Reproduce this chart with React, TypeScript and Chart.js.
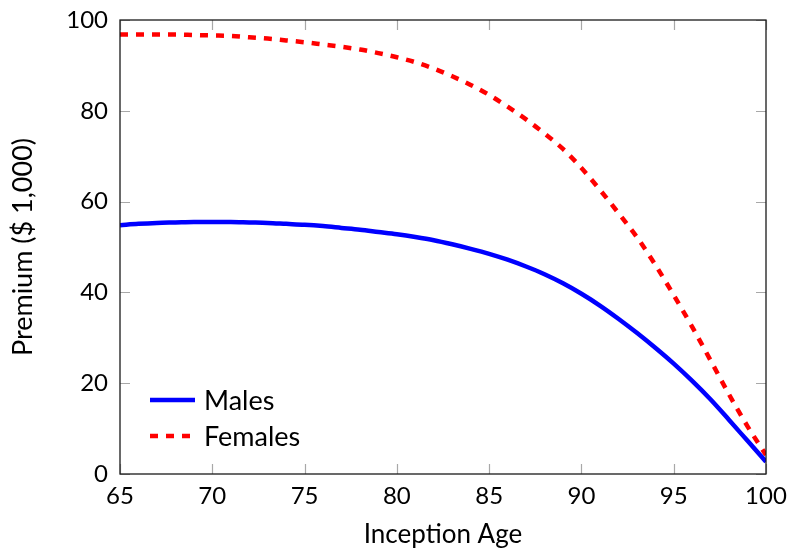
import React, { useEffect, useRef } from "react";
import { Chart, registerables } from "chart.js";

Chart.register(...registerables);

const ages = [65, 66, 67, 68, 69, 70, 71, 72, 73, 74, 75, 76, 77, 78, 79, 80, 81, 82, 83, 84, 85, 86, 87, 88, 89, 90, 91, 92, 93, 94, 95, 96, 97, 98, 99, 100];
const malesPremium = [54.8, 55.1, 55.3, 55.4, 55.5, 55.5, 55.5, 55.4, 55.3, 55.1, 54.9, 54.6, 54.2, 53.8, 53.3, 52.8, 52.2, 51.5, 50.6, 49.6, 48.5, 47.2, 45.7, 44.0, 42.0, 39.7, 37.1, 34.2, 31.1, 27.8, 24.3, 20.5, 16.4, 11.9, 7.3, 2.7];
const femalesPremium = [96.8, 96.8, 96.8, 96.8, 96.7, 96.6, 96.5, 96.2, 95.9, 95.5, 95.1, 94.6, 94.1, 93.5, 92.7, 91.8, 90.7, 89.3, 87.6, 85.7, 83.5, 80.9, 78.1, 75.0, 71.6, 67.4, 62.6, 57.5, 52.2, 46.1, 39.4, 32.4, 25.0, 17.5, 10.5, 4.2];
const seriesLabels = ["Males", "Females"];
const xTitle = "Inception Age";
const yTitle = "Premium ($ 1,000)";

const FONT = "Lato, 'Open Sans', sans-serif";

const frameTicks = {
  id: "frameTicks",
  beforeDatasetsDraw(chart: any) {
    const { ctx, chartArea: a, scales } = chart;
    ctx.save();
    ctx.strokeStyle = "#a8a8a8";
    ctx.lineWidth = 1.2;
    const L = 10;
    scales.x.ticks.forEach((t: any) => {
      const px = Math.round(scales.x.getPixelForValue(t.value)) + 0.5;
      ctx.beginPath();
      ctx.moveTo(px, a.bottom);
      ctx.lineTo(px, a.bottom - L);
      ctx.moveTo(px, a.top);
      ctx.lineTo(px, a.top + L);
      ctx.stroke();
    });
    scales.y.ticks.forEach((t: any) => {
      const py = Math.round(scales.y.getPixelForValue(t.value)) + 0.5;
      ctx.beginPath();
      ctx.moveTo(a.left, py);
      ctx.lineTo(a.left + L, py);
      ctx.moveTo(a.right, py);
      ctx.lineTo(a.right - L, py);
      ctx.stroke();
    });
    ctx.restore();
  },
  afterDatasetsDraw(chart: any) {
    const { ctx, chartArea: a } = chart;
    ctx.save();
    ctx.strokeStyle = "#1a1a1a";
    ctx.lineWidth = 1.3;
    ctx.strokeRect(a.left, a.top, a.right - a.left, a.bottom - a.top);
    const rows = [a.bottom - 74, a.bottom - 38];
    chart.data.datasets.forEach((ds: any, i: number) => {
      const y = rows[i];
      ctx.beginPath();
      ctx.strokeStyle = ds.borderColor;
      ctx.lineWidth = ds.borderWidth;
      ctx.setLineDash(ds.borderDash || []);
      ctx.moveTo(a.left + 30, y);
      ctx.lineTo(a.left + (ds.borderDash ? 72 : 75), y);
      ctx.stroke();
      ctx.setLineDash([]);
      ctx.fillStyle = "#000";
      ctx.font = `27px ${FONT}`;
      ctx.textBaseline = "alphabetic";
      ctx.textAlign = "left";
      ctx.fillText(ds.label, a.left + 84, y + 9.5);
    });
    ctx.restore();
  },
};

export default function App() {
  const ref = useRef<HTMLCanvasElement>(null);
  useEffect(() => {
    if (!ref.current) return;
    const chart = new Chart(ref.current, {
      type: "line",
      data: {
        datasets: [
          {
            label: seriesLabels[0],
            data: ages.map((a, i) => ({ x: a, y: malesPremium[i] })),
            borderColor: "#0000ff",
            borderWidth: 4.5,
            pointRadius: 0,
            cubicInterpolationMode: "monotone",
            fill: false,
          },
          {
            label: seriesLabels[1],
            data: ages.map((a, i) => ({ x: a, y: femalesPremium[i] })),
            borderColor: "#ff0000",
            borderWidth: 4.5,
            borderDash: [8, 8],
            pointRadius: 0,
            cubicInterpolationMode: "monotone",
            fill: false,
          },
        ],
      },
      options: {
        animation: false,
        responsive: false,
        maintainAspectRatio: false,
        layout: { padding: { top: 20, right: 24, left: 0, bottom: 0 } },
        plugins: { legend: { display: false }, tooltip: { enabled: false } },
        scales: {
          x: {
            type: "linear",
            min: 65,
            max: 100,
            grid: { display: false, drawTicks: false },
            border: { display: false },
            ticks: { stepSize: 5, padding: 8, color: "#000", font: { family: FONT, size: 24 } },
            title: { display: true, text: xTitle, color: "#000", font: { family: FONT, size: 26 }, padding: { top: 0, bottom: 0 } },
            afterFit: (s: any) => { s.height = 76; s.paddingLeft = 0; s.paddingRight = 0; },
          },
          y: {
            min: 0,
            max: 100,
            grid: { display: false, drawTicks: false },
            border: { display: false },
            ticks: { stepSize: 20, padding: 12, color: "#000", font: { family: FONT, size: 24 } },
            title: { display: true, text: yTitle, color: "#000", font: { family: FONT, size: 27 }, padding: { top: 7, bottom: 0 } },
            afterFit: (s: any) => { s.width = 120; s.paddingTop = 0; s.paddingBottom = 0; },
          },
        },
      },
      plugins: [frameTicks],
    });
    return () => chart.destroy();
  }, []);
  return (
    <div style={{ position: "fixed", left: 0, top: 0, width: 790, height: 550, background: "#fff" }}>
      <canvas ref={ref} width={790} height={550} style={{ display: "block" }} />
    </div>
  );
}
